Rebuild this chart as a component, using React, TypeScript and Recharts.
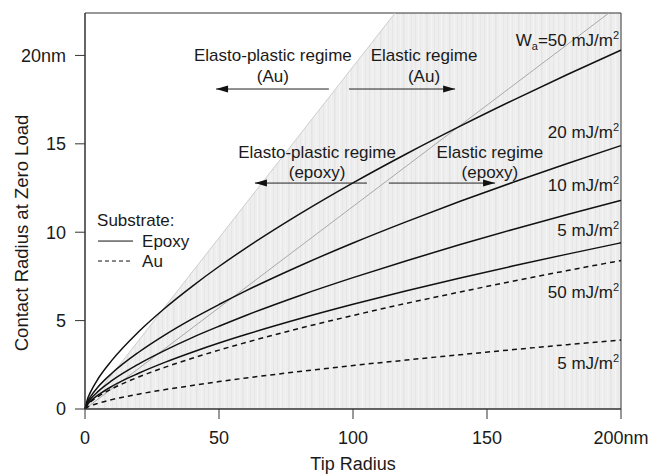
import React from 'react';
import {
  ComposedChart, Line, Area, XAxis, YAxis, ReferenceLine, ReferenceDot, ReferenceArea,
} from 'recharts';

// tip radius (nm) and contact radius at zero load (nm)
const tipRadius = [0, 1, 2, 5, 10, 20, 30, 40, 50, 60, 80, 100, 120, 140, 160, 180, 200];
const epoxy50 = [0, 0.59, 0.94, 1.74, 2.75, 4.37, 5.73, 6.94, 8.06, 9.1, 11.02, 12.79, 14.44, 16.0, 17.49, 18.92, 20.3];
const epoxy20 = [0, 0.44, 0.69, 1.27, 2.02, 3.21, 4.21, 5.1, 5.91, 6.68, 8.09, 9.39, 10.6, 11.75, 12.84, 13.89, 14.9];
const epoxy10 = [0, 0.34, 0.55, 1.01, 1.6, 2.54, 3.33, 4.04, 4.68, 5.29, 6.41, 7.43, 8.39, 9.3, 10.17, 11.0, 11.8];
const epoxy5 = [0, 0.27, 0.44, 0.8, 1.28, 2.02, 2.65, 3.21, 3.73, 4.21, 5.1, 5.92, 6.69, 7.41, 8.1, 8.76, 9.4];
const au50 = [0, 0.25, 0.39, 0.72, 1.14, 1.81, 2.37, 2.87, 3.33, 3.76, 4.56, 5.29, 5.98, 6.62, 7.24, 7.83, 8.4];
const au5 = [0, 0.11, 0.18, 0.33, 0.53, 0.84, 1.1, 1.33, 1.55, 1.75, 2.12, 2.46, 2.77, 3.07, 3.36, 3.64, 3.9];

// regime boundaries
const auBoundary = [{ x: 0, y: 0 }, { x: 115.7, y: 22.4 }];
const epoxyBoundary = [{ x: 0, y: 0 }, { x: 195.5, y: 22.4 }];
const shadedWedge = [{ x: 0, y: 0 }, { x: 115.7, y: 22.4 }, { x: 200, y: 22.4 }];

const xTicks = [0, 50, 100, 150, 200];
const yTicks = [0, 5, 10, 15, 20];

const rows = tipRadius.map((x, i) => ({
  x, e50: epoxy50[i], e20: epoxy20[i], e10: epoxy10[i], e5: epoxy5[i], a50: au50[i], a5: au5[i],
}));

const regimeTexts = [
  { x: 70.1, y: 20.0, text: 'Elasto-plastic regime' },
  { x: 70.1, y: 18.83, text: '(Au)' },
  { x: 126.5, y: 20.0, text: 'Elastic regime' },
  { x: 126.5, y: 18.83, text: '(Au)' },
  { x: 86.6, y: 14.53, text: 'Elasto-plastic regime' },
  { x: 86.6, y: 13.4, text: '(epoxy)' },
  { x: 151.1, y: 14.53, text: 'Elastic regime' },
  { x: 151.1, y: 13.4, text: '(epoxy)' },
];

const arrows = [
  { from: 91.0, to: 48.9, y: 18.1 },
  { from: 98.5, to: 138.1, y: 18.1 },
  { from: 105.2, to: 63.4, y: 12.78 },
  { from: 113.4, to: 153.0, y: 12.78 },
];

const curveLabels = [
  { y: 20.87, pre: 'W', sub: 'a', text: '=50 mJ/m' },
  { y: 15.67, text: '20 mJ/m' },
  { y: 12.67, text: '10 mJ/m' },
  { y: 10.12, text: '5 mJ/m' },
  { y: 6.62, text: '50 mJ/m' },
  { y: 2.6, text: '5 mJ/m' },
];

const FONT = '"Liberation Sans", Arial, Helvetica, sans-serif';
const INK = '#1a1a1a';

// irregular vertical stripe texture of the shaded regime
const stripes = [
  { x: 1, c: '#e6e6e6' }, { x: 4, c: '#f3f3f3' }, { x: 6, c: '#e8e8e8' }, { x: 9, c: '#f2f2f2' },
  { x: 12, c: '#e4e4e4' }, { x: 13, c: '#e9e9e9' }, { x: 17, c: '#f4f4f4' }, { x: 20, c: '#e7e7e7' },
];

export default function App() {
  return (
    <div style={{ position: 'absolute', left: 0, top: 0, fontFamily: FONT }}>
      <ComposedChart width={652} height={475} data={rows} margin={{ top: 13, right: 31, left: 0, bottom: 0 }}>
        <defs>
          <pattern id="stripes" width="23" height="8" patternUnits="userSpaceOnUse">
            <rect width="23" height="8" fill="#eeeeee" />
            {stripes.map((s) => (
              <line key={s.x} x1={s.x + 0.5} y1="0" x2={s.x + 0.5} y2="8" stroke={s.c} strokeWidth="1" />
            ))}
          </pattern>
        </defs>
        <XAxis
          type="number" dataKey="x" domain={[0, 200]} ticks={xTicks} height={66}
          tickFormatter={(v) => (v === 200 ? '200nm' : String(v))}
          tickSize={10} tickMargin={12}
          stroke="#333" tick={{ fill: INK, fontSize: 18, fontFamily: FONT }}
          label={{ value: 'Tip Radius', position: 'insideBottom', offset: 5, fill: INK, fontSize: 18, fontFamily: FONT }}
        />
        <YAxis
          type="number" domain={[0, 22.4]} ticks={yTicks} width={85} allowDataOverflow
          tickFormatter={(v) => (v === 20 ? '20nm' : String(v))}
          tickSize={10} tickMargin={9}
          stroke="#333" tick={{ fill: INK, fontSize: 18, fontFamily: FONT }}
          label={{
            content: () => (
              <text x={21} y={233} transform="rotate(-90 21 233)" textAnchor="middle"
                dominantBaseline="central" fill={INK} fontSize={18.5} fontFamily={FONT}>
                Contact Radius at Zero Load
              </text>
            ),
          }}
        />

        <Area data={shadedWedge} dataKey="y" type="linear" fill="url(#stripes)" fillOpacity={1}
          stroke="none" isAnimationActive={false} />
        <Line data={auBoundary} dataKey="y" type="linear" stroke="#cccccc" strokeWidth={1}
          dot={false} isAnimationActive={false} />
        <Line data={epoxyBoundary} dataKey="y" type="linear" stroke="#a8a8a8" strokeWidth={1}
          dot={false} isAnimationActive={false} />

        <Line dataKey="e50" type="monotone" stroke="#111" strokeWidth={1.5} dot={false} isAnimationActive={false} />
        <Line dataKey="e20" type="monotone" stroke="#111" strokeWidth={1.5} dot={false} isAnimationActive={false} />
        <Line dataKey="e10" type="monotone" stroke="#111" strokeWidth={1.5} dot={false} isAnimationActive={false} />
        <Line dataKey="e5" type="monotone" stroke="#111" strokeWidth={1.5} dot={false} isAnimationActive={false} />
        <Line dataKey="a50" type="monotone" stroke="#111" strokeWidth={1.5} strokeDasharray="5 4" dot={false} isAnimationActive={false} />
        <Line dataKey="a5" type="monotone" stroke="#111" strokeWidth={1.5} strokeDasharray="5 4" dot={false} isAnimationActive={false} />

        <ReferenceArea x1={0} x2={200} y1={0} y2={22.4} fill="none" stroke="#333" strokeWidth={1} ifOverflow="visible" />

        {arrows.map((a, i) => (
          <ReferenceLine key={`al${i}`} segment={[{ x: a.from, y: a.y }, { x: a.to, y: a.y }]}
            stroke="#222" strokeWidth={1} />
        ))}
        {arrows.map((a, i) => (
          <ReferenceDot key={`ah${i}`} x={a.to} y={a.y} r={0}
            shape={(p: any) => {
              const d = a.to < a.from ? 1 : -1;
              return (
                <polygon fill="#111"
                  points={`${p.cx},${p.cy} ${p.cx + d * 12},${p.cy - 3.5} ${p.cx + d * 12},${p.cy + 3.5}`} />
              );
            }}
          />
        ))}

        {regimeTexts.map((t, i) => (
          <ReferenceDot key={`rt${i}`} x={t.x} y={t.y} r={0}
            shape={(p: any) => (
              <text x={p.cx} y={p.cy} textAnchor="middle" dominantBaseline="central"
                fill={INK} fontSize={17} fontFamily={FONT}>{t.text}</text>
            )}
          />
        ))}

        {curveLabels.map((c, i) => (
          <ReferenceDot key={`cl${i}`} x={199.3} y={c.y} r={0} ifOverflow="visible"
            shape={(p: any) => (
              <text x={p.cx} y={p.cy + 6} textAnchor="end" fill={INK} fontSize={17} fontFamily={FONT}>
                {c.pre ? c.pre : null}
                {c.sub ? <tspan dy={4} fontSize={11}>{c.sub}</tspan> : null}
                <tspan dy={c.sub ? -4 : 0}>{c.text}</tspan>
                <tspan dy={-7} fontSize={11}>2</tspan>
              </text>
            )}
          />
        ))}

        {/* legend */}
        <ReferenceDot x={4.5} y={10.69} r={0}
          shape={(p: any) => (
            <text x={p.cx} y={p.cy} dominantBaseline="central" fill={INK} fontSize={17} fontFamily={FONT}>Substrate:</text>
          )}
        />
        <ReferenceLine segment={[{ x: 4.85, y: 9.5 }, { x: 17.9, y: 9.5 }]} stroke="#111" strokeWidth={1} />
        <ReferenceLine segment={[{ x: 4.85, y: 8.37 }, { x: 17.9, y: 8.37 }]} stroke="#111" strokeWidth={1} strokeDasharray="4 3" />
        <ReferenceDot x={21.3} y={9.5} r={0}
          shape={(p: any) => (
            <text x={p.cx} y={p.cy} dominantBaseline="central" fill={INK} fontSize={17} fontFamily={FONT}>Epoxy</text>
          )}
        />
        <ReferenceDot x={21.3} y={8.37} r={0}
          shape={(p: any) => (
            <text x={p.cx} y={p.cy} dominantBaseline="central" fill={INK} fontSize={17} fontFamily={FONT}>Au</text>
          )}
        />
      </ComposedChart>
    </div>
  );
}
